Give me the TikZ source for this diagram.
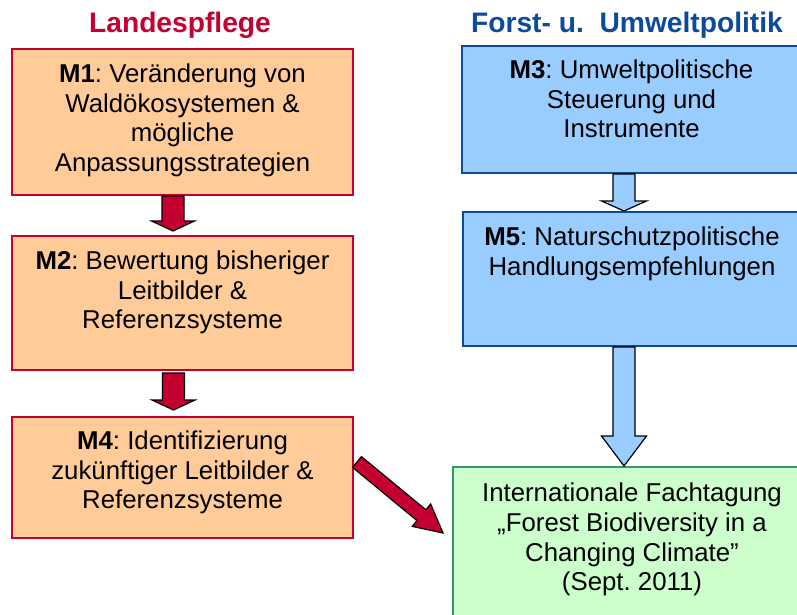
\documentclass[tikz,border=0pt]{standalone}
\usepackage{fontspec}
\setmainfont{Liberation Sans}
\usetikzlibrary{calc,positioning}
\frenchspacing

\definecolor{lpred}{RGB}{196,0,48}
\definecolor{lporange}{RGB}{255,204,153}
\definecolor{fublue}{RGB}{12,74,156}
\definecolor{fulight}{RGB}{153,204,255}
\definecolor{ftgreen}{RGB}{51,153,102}
\definecolor{ftlight}{RGB}{204,255,204}

\tikzset{
  ba shaft/.store in=\bashaft, ba head/.store in=\bahead, ba tip/.store in=\batip,
  ba shaft=11pt, ba head=21.5pt, ba tip=10pt,
  blockarr/.style={draw=black, line width=1.2pt, line join=miter},
  redarr/.style={blockarr, fill=lpred},
  bluearr/.style={blockarr, fill=fulight},
}

% block arrow from #2 (tail) to #3 (tip)
\newcommand{\blockarrow}[3][]{%
  \draw[blockarr,#1]
    ($(#2)!\bashaft!-90:(#3)$)
    -- ($(#3)!\batip!(#2)!\bashaft!-90:(#3)$)
    -- ($(#3)!\batip!(#2)!\bahead!-90:(#3)$)
    -- (#3)
    -- ($(#3)!\batip!(#2)!\bahead!90:(#3)$)
    -- ($(#3)!\batip!(#2)!\bashaft!90:(#3)$)
    -- ($(#2)!\bashaft!90:(#3)$) -- cycle;}

\begin{document}
\begin{tikzpicture}[x=1pt, y=-1pt,
    every node/.style={inner sep=0pt},
    lpbox/.style={draw=lpred, line width=2pt, fill=lporange, minimum width=341pt},
    fubox/.style={draw=fublue, line width=2pt, fill=fulight, minimum width=339pt},
    ftbox/.style={draw=ftgreen, line width=2pt, fill=ftlight, minimum width=358pt},
    boxtext/.style={align=center, font=\fontsize{25.8pt}{29.6pt}\selectfont},
    title/.style={font=\fontsize{28.2pt}{32pt}\selectfont\bfseries, anchor=base}]

  \useasboundingbox (0,0) rectangle (797,614);
  \clip (0,0) rectangle (797,614);

  \node[title, text=lpred] (lp) at (180,32) {Landespflege};
  \node[title, text=fublue] (fu) at (627,32) {Forst- u.\ \ Umweltpolitik};

  % Landespflege
  \node[lpbox, minimum height=146pt] (m1) at (182.5,122) {};
  \node[lpbox, minimum height=134pt] (m2) at (182.5,303) {};
  \node[lpbox, minimum height=121pt] (m4) at (182.5,477.5) {};
  \node[boxtext, below=15.5pt of m1.north] (m1t)
    {\textbf{M1}: Veränderung von\\Waldökosystemen \&\\mögliche\\Anpassungsstrategien};
  \node[boxtext, below=15.5pt of m2.north] (m2t)
    {\textbf{M2}: Bewertung bisheriger\\Leitbilder \&\\Referenzsysteme};
  \node[boxtext, below=14.5pt of m4.north] (m4t)
    {\textbf{M4}: Identifizierung\\zukünftiger Leitbilder \&\\Referenzsysteme};

  % Forst- u. Umweltpolitik
  \node[fubox, minimum height=127pt] (m3) at (631.5,109.5) {};
  \node[fubox, minimum height=134pt] (m5) at (632,279) {};
  \node[boxtext, below=14.5pt of m3.north] (m3t)
    {\textbf{M3}: Umweltpolitische\\Steuerung und\\Instrumente};
  \node[boxtext, below=15.5pt of m5.north] (m5t)
    {\textbf{M5}: Naturschutzpolitische\\Handlungsempfehlungen};

  % Tagung
  \node[ftbox, minimum height=183pt] (ft) at (632,558.5) {};
  \node[boxtext, below=17pt of ft.north] (ftt)
    {Internationale Fachtagung\\„Forest Biodiversity in a\\Changing Climate”\\(Sept. 2011)};

  \coordinate (a1s) at ([xshift=-9.5pt]m1.south);
  \coordinate (a1e) at ([xshift=-9.5pt,yshift=4pt]m2.north);
  \coordinate (a2s) at ([xshift=-9pt,yshift=-2pt]m2.south);
  \coordinate (a2e) at ([xshift=-9pt,yshift=6pt]m4.north);
  \coordinate (a3s) at ([xshift=-7.5pt]m3.south);
  \coordinate (a3e) at ([xshift=-8pt]m5.north);
  \coordinate (a4s) at ([xshift=-8pt]m5.south);
  \coordinate (a4e) at ([xshift=-8pt]ft.north);
  \coordinate (a5s) at (357,462);
  \coordinate (a5e) at (443,533);

  \blockarrow[redarr]{a1s}{a1e}
  \blockarrow[redarr]{a2s}{a2e}
  \blockarrow[bluearr, ba head=22.5pt]{a3s}{a3e}
  \blockarrow[bluearr, ba head=22.5pt, ba tip=30pt]{a4s}{a4e}
  \blockarrow[redarr, ba shaft=7pt, ba head=14.5pt, ba tip=28pt]{a5s}{a5e}

\end{tikzpicture}
\end{document}
